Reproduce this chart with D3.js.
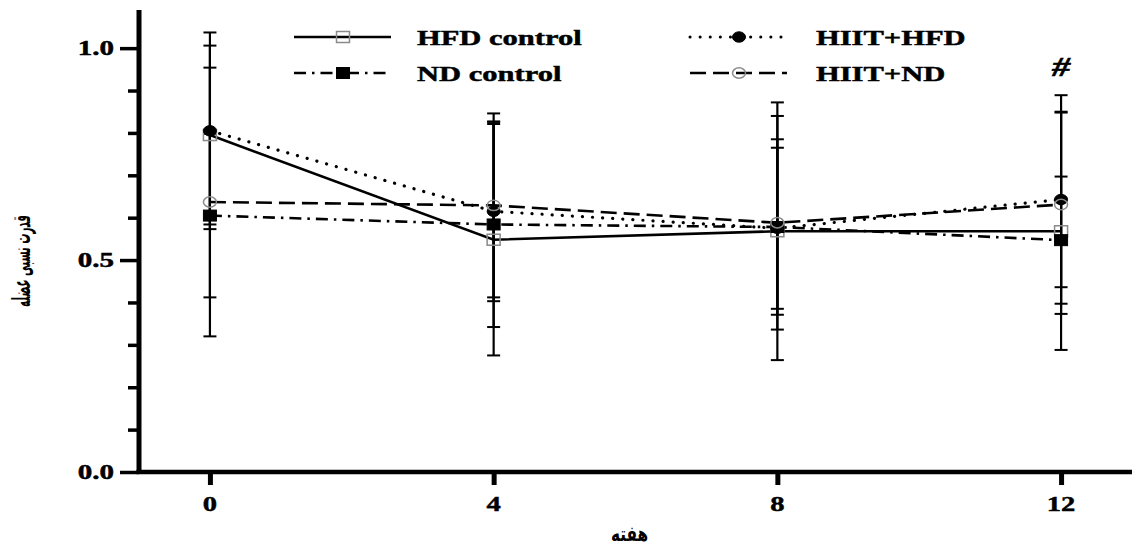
<!DOCTYPE html>
<html>
<head>
<meta charset="utf-8">
<script src="https://cdn.jsdelivr.net/npm/d3@7"></script>
<style>
html,body{margin:0;padding:0;background:#fff;}
svg{display:block;}
</style>
</head>
<body>
<svg id="chart" width="1132" height="549"></svg>
<script>
// ---- data ----
const weeks = [0, 4, 8, 12];
const xTickLabels = ["0", "4", "8", "12"];
const yTickValues = [0, 0.5, 1.0];
const yTickLabels = ["0.0", "0.5", "1.0"];
const yMinorTicks = [0.1, 0.2, 0.3, 0.4, 0.6, 0.7, 0.8, 0.9];

const seriesNames = ["HFD control", "ND control", "HIIT+HFD", "HIIT+ND"];
const hfdControl   = [0.795, 0.548, 0.568, 0.568];
const hfdControlSD = [0.211, 0.273, 0.304, 0.280];
const ndControl    = [0.605, 0.584, 0.578, 0.547];
const ndControlSD  = [0.193, 0.242, 0.207, 0.150];
const hiitHfd      = [0.805, 0.615, 0.575, 0.643];
const hiitHfdSD    = [0.232, 0.212, 0.190, 0.207];
const hiitNd       = [0.637, 0.629, 0.588, 0.631];
const hiitNdSD     = [0.317, 0.217, 0.252, 0.258];

const yTitle = "قدرت نسبی عضله";
const xTitle = "هفته";
const markWeek = 12, markLabel = "#";

// ---- styles ----
const styles = {
  "HFD control": {dash: null, cap: "butt", marker: "square", filled: false},
  "ND control":  {dash: "12,6,2.5,6", cap: "butt", marker: "square", filled: true},
  "HIIT+HFD":    {dash: "0.1,10", cap: "round", marker: "circle", filled: true},
  "HIIT+ND":     {dash: "16,7", cap: "butt", marker: "circle", filled: false}
};
const series = [
  {name: seriesNames[0], mean: hfdControl, sd: hfdControlSD},
  {name: seriesNames[1], mean: ndControl, sd: ndControlSD},
  {name: seriesNames[2], mean: hiitHfd, sd: hiitHfdSD},
  {name: seriesNames[3], mean: hiitNd, sd: hiitNdSD}
];

const svg = d3.select("#chart");
const SX = 1.4; // horizontal stretch of text seen in the reference
const serif = "'Liberation Serif','Times New Roman',serif";

const x = d3.scaleLinear().domain([-1, 13]).range([139, 1132]);
const y = d3.scaleLinear().domain([0, 1.09]).range([472, 10]);

function stretchedText(g, tx, ty, txt, opts) {
  const t = g.append("text")
    .attr("transform", `translate(${tx},${ty}) scale(${opts.sx || SX},${opts.sy || 1})`)
    .attr("font-family", opts.family || serif)
    .attr("font-weight", opts.weight || "bold")
    .attr("font-size", opts.size)
    .attr("text-anchor", opts.anchor || "start")
    .attr("fill", "#000")
    .attr("stroke", "#000")
    .attr("stroke-width", 0.45)
    .text(txt);
  if (opts.style) t.attr("font-style", opts.style);
  return t;
}

// ---- axes ----
svg.append("line").attr("x1", x(-1)).attr("x2", x(-1))
  .attr("y1", y(0) + 2).attr("y2", y(1.09))
  .attr("stroke", "#000").attr("stroke-width", 5);
svg.append("line").attr("x1", x(-1) - 2.5).attr("x2", 1132)
  .attr("y1", y(0)).attr("y2", y(0))
  .attr("stroke", "#000").attr("stroke-width", 4.5);

const yMajor = d3.axisLeft(y).tickValues(yTickValues).tickSize(19).tickFormat("");
const gyMaj = svg.append("g").attr("transform", `translate(${x(-1)},0)`).call(yMajor);
gyMaj.select(".domain").remove();
gyMaj.selectAll(".tick line").attr("stroke", "#000").attr("stroke-width", 3.5);

const yMinor = d3.axisLeft(y).tickValues(yMinorTicks).tickSize(11).tickFormat("");
const gyMin = svg.append("g").attr("transform", `translate(${x(-1)},0)`).call(yMinor);
gyMin.select(".domain").remove();
gyMin.selectAll(".tick line").attr("stroke", "#000").attr("stroke-width", 3.5);

yTickValues.forEach((v, i) => {
  stretchedText(svg, 114, y(v) + 7, yTickLabels[i], {size: 20, anchor: "end", sx: 1.45});
});

const xAx = d3.axisBottom(x).tickValues(weeks).tickSize(13).tickFormat("");
const gx = svg.append("g").attr("transform", `translate(0,${y(0)})`).call(xAx);
gx.select(".domain").remove();
gx.selectAll(".tick line").attr("stroke", "#000").attr("stroke-width", 5);

weeks.forEach((w, i) => {
  stretchedText(svg, x(w), 511, xTickLabels[i], {size: 22, anchor: "middle", sx: 1.3});
});

// axis titles
svg.append("text")
  .attr("transform", `translate(30,261) rotate(-90) scale(0.6,1.45)`)
  .attr("font-family", "'DejaVu Sans',sans-serif")
  .attr("font-weight", "bold")
  .attr("font-size", 17)
  .attr("text-anchor", "middle")
  .attr("direction", "rtl")
  .text(yTitle);
svg.append("text")
  .attr("transform", `translate(${x(6) - 6},541) scale(0.9,1.2)`)
  .attr("font-family", "'DejaVu Sans',sans-serif")
  .attr("font-weight", "bold")
  .attr("font-size", 17)
  .attr("text-anchor", "middle")
  .attr("direction", "rtl")
  .text(xTitle);

// ---- error bars ----
const capW = 6.5;
series.forEach(s => {
  const g = svg.append("g").attr("class", "err");
  weeks.forEach((w, i) => {
    const hi = s.mean[i] + s.sd[i], lo = s.mean[i] - s.sd[i];
    g.append("line").attr("x1", x(w)).attr("x2", x(w)).attr("y1", y(hi)).attr("y2", y(lo))
      .attr("stroke", "#000").attr("stroke-width", 2.2);
    [hi, lo].forEach(v => {
      g.append("line").attr("x1", x(w) - capW).attr("x2", x(w) + capW)
        .attr("y1", y(v)).attr("y2", y(v)).attr("stroke", "#000").attr("stroke-width", 2);
    });
  });
});

// ---- lines ----
const line = d3.line().x((d, i) => x(weeks[i])).y(d => y(d));
series.forEach(s => {
  const st = styles[s.name];
  const p = svg.append("path").attr("d", line(s.mean))
    .attr("fill", "none").attr("stroke", "#000")
    .attr("stroke-width", st.cap === "round" ? 3.2 : 2.6)
    .attr("stroke-linecap", st.cap);
  if (st.dash) p.attr("stroke-dasharray", st.dash);
});

// ---- markers ----
function drawMarker(g, cx, cy, st) {
  if (st.marker === "square") {
    g.append("rect").attr("x", cx - 6.5).attr("y", cy - 5.5).attr("width", 13).attr("height", 11)
      .attr("fill", st.filled ? "#000" : "none")
      .attr("stroke", st.filled ? "#000" : "#8a8a8a").attr("stroke-width", st.filled ? 1 : 1.5);
  } else {
    g.append("ellipse").attr("cx", cx).attr("cy", cy).attr("rx", 6.5).attr("ry", 5.2)
      .attr("fill", st.filled ? "#000" : "none")
      .attr("stroke", st.filled ? "#000" : "#8a8a8a").attr("stroke-width", st.filled ? 1 : 1.5);
  }
}
series.forEach(s => {
  const st = styles[s.name];
  const g = svg.append("g");
  weeks.forEach((w, i) => drawMarker(g, x(w), y(s.mean[i]), st));
});

// significance mark
stretchedText(svg, x(markWeek), 76, markLabel, {size: 27, anchor: "middle", style: "italic", sx: 1.35});

// ---- legend ----
const legendPos = [
  {lx: 294, ly: 37, tx: 417},
  {lx: 294, ly: 73, tx: 417},
  {lx: 690, ly: 37, tx: 816},
  {lx: 690, ly: 73, tx: 816}
];
series.forEach((s, i) => {
  const st = styles[s.name];
  const p = legendPos[i];
  const g = svg.append("g");
  const l = g.append("line").attr("x1", p.lx).attr("x2", p.lx + 97).attr("y1", p.ly).attr("y2", p.ly)
    .attr("stroke", "#000").attr("stroke-width", st.cap === "round" ? 3 : 2.6)
    .attr("stroke-linecap", st.cap);
  if (st.dash) l.attr("stroke-dasharray", st.dash);
  drawMarker(g, p.lx + 49, p.ly, st);
  stretchedText(g, p.tx, p.ly + 7.5, s.name, {size: 21.5, sx: 1.42});
});
</script>
</body>
</html>
